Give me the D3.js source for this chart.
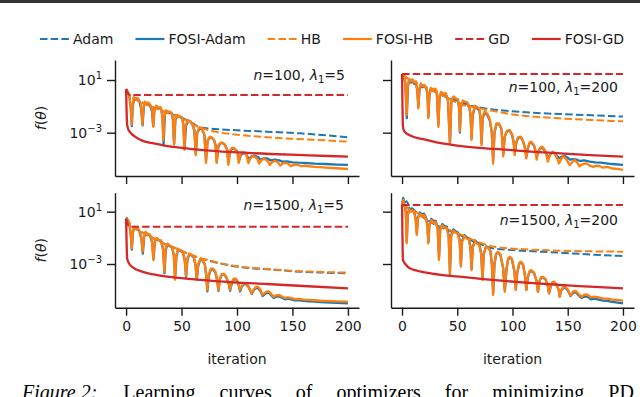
<!DOCTYPE html>
<html>
<head>
<meta charset="utf-8">
<script src="https://cdn.jsdelivr.net/npm/d3@7"></script>
<style>
  body { margin: 0; background: #fff; }
  svg { display: block; }
</style>
</head>
<body>
<div id="chart"></div>
<script>
// values are [iteration, log10 f(theta)]
const xTicks = [0, 50, 100, 150, 200];
const yTicks = [1e-3, 1e1];
const seriesNames = ["Adam", "FOSI-Adam", "HB", "FOSI-HB", "GD", "FOSI-GD"];

// n=100, lambda1=5
const tlAdam = [[0,0.3],[3,-0.1],[6,-0.37],[12,-0.6],[22,-1.0],[30,-1.25],[37,-1.5],[45,-1.7],[51,-1.9],[60,-2.3],[67,-2.6],[80,-2.72],[100,-2.82],[127,-2.92],[157,-3.05],[180,-3.2],[200,-3.35]];
const tlFosiAdam = [[0,0.3],[1.5,0.1],[3,-0.25],[4.3,-1.1],[5.2,-2.5],[6,-1.0],[7.5,-0.35],[9,-0.5],[10.5,-0.4],[12,-0.6],[13.6,-1.2],[14.9,-2.45],[16,-1.0],[17.5,-0.7],[19.5,-0.85],[21.5,-0.9],[23.4,-1.4],[24.4,-2.5],[25.5,-1.2],[27.5,-1.0],[29.5,-1.15],[31.5,-1.15],[32.8,-1.8],[33.8,-3.95],[35,-1.6],[37,-1.35],[39,-1.5],[41,-1.5],[42.3,-2.0],[43.3,-3.85],[44.5,-2.0],[46.5,-1.7],[48.5,-1.8],[50.5,-1.9],[51.7,-2.4],[52.7,-4.25],[54,-2.5],[56,-2.1],[58,-2.15],[60,-2.4],[61.7,-2.9],[62.9,-4.6],[64.2,-3.0],[66.5,-2.65],[68.5,-2.75],[70.7,-3.2],[72.1,-5.1],[73.5,-3.65],[75.5,-3.35],[77.5,-3.4],[79.5,-3.6],[80.8,-4.0],[81.8,-5.2],[83.2,-4.05],[85.2,-3.8],[87.2,-3.8],[89.2,-3.95],[91.2,-4.3],[92.3,-5.3],[93.7,-4.45],[95.7,-4.2],[97.5,-4.2],[99.5,-4.35],[101,-4.6],[102,-5.1],[103.5,-4.7],[106,-4.55],[108,-4.6],[110.5,-5.0],[113,-4.8],[116,-4.75],[119,-4.85],[121,-5.05],[124,-4.95],[127,-4.95],[130,-5.1],[134,-5.05],[138,-5.1],[141,-5.2],[145,-5.18],[150,-5.25],[155,-5.28],[160,-5.3],[170,-5.35],[180,-5.38],[190,-5.42],[200,-5.45]];
const tlHB = [[0,0.3],[3,-0.1],[6,-0.37],[12,-0.6],[22,-1.0],[30,-1.25],[37,-1.5],[45,-1.75],[51,-1.95],[60,-2.35],[67,-2.6],[82,-2.95],[100,-3.15],[127,-3.35],[160,-3.5],[200,-3.68]];
const tlFosiHB = [[0,0.3],[1.5,0.05],[3,-0.3],[4.2,-1.2],[5,-2.4],[5.8,-1.0],[7,-0.3],[8.5,-0.45],[10,-0.35],[11.5,-0.55],[13,-0.7],[14,-1.5],[14.7,-2.4],[15.5,-1.2],[17,-0.65],[18.5,-0.8],[20,-0.7],[22,-0.9],[23.5,-1.3],[24.6,-2.55],[25.5,-1.4],[27,-0.95],[29,-1.1],[31,-1.05],[32.6,-1.6],[33.6,-3.6],[34.6,-1.7],[36,-1.3],[38,-1.45],[40,-1.4],[42,-1.8],[43.2,-3.9],[44.3,-2.0],[46,-1.65],[48,-1.75],[50,-1.8],[51.5,-2.3],[52.5,-4.3],[53.6,-2.5],[55.5,-2.05],[57.5,-2.1],[59.5,-2.3],[61.5,-2.8],[62.8,-4.7],[64,-3.0],[66,-2.6],[68,-2.65],[70.5,-3.1],[72,-5.3],[73.4,-3.6],[75.5,-3.3],[77,-3.35],[79,-3.5],[80.5,-3.9],[81.7,-5.3],[83,-4.0],[85,-3.75],[87,-3.75],[89,-3.9],[91,-4.3],[92.2,-5.45],[93.5,-4.4],[95.5,-4.15],[97,-4.15],[99,-4.3],[100.5,-4.6],[101.5,-5.3],[102.8,-4.75],[104.5,-4.5],[106.5,-4.5],[108.5,-4.65],[110.3,-5.3],[112,-4.95],[114,-4.8],[116,-4.82],[118,-4.95],[120,-5.35],[122,-5.1],[124,-5.0],[126,-5.05],[128,-5.2],[129.6,-5.45],[131.5,-5.25],[134,-5.15],[136.5,-5.22],[139,-5.5],[141,-5.35],[144,-5.3],[146,-5.35],[148.5,-5.55],[151,-5.45],[154,-5.42],[158,-5.55],[161,-5.5],[165,-5.55],[170,-5.6],[175,-5.62],[180,-5.65],[190,-5.7],[200,-5.76]];
const tlGD = [[0,0.3],[3,-0.14],[200,-0.14]];
const tlFosiGD = [[0,0.3],[0.5,-1.5],[1,-2.4],[2,-2.75],[4,-3.0],[8,-3.3],[15,-3.62],[25,-3.82],[37,-4.02],[50,-4.15],[67,-4.3],[97,-4.48],[130,-4.62],[165,-4.72],[200,-4.82]];

// n=100, lambda1=200
const trAdam = [[0,1.46],[5,1.1],[10,0.9],[20,0.5],[30,0.1],[40,-0.3],[52,-0.77],[67,-1.03],[82,-1.23],[97,-1.35],[112,-1.45],[142,-1.58],[172,-1.68],[200,-1.78]];
const trFosiAdam = [[0,1.46],[1,1.3],[2,1.1],[3,0.7],[4.3,-1.9],[5.3,0.5],[6.5,1.0],[8,0.8],[9.5,0.95],[11,0.7],[12.5,0.8],[13.8,0.2],[14.8,-1.0],[15.8,0.2],[17,0.65],[18.5,0.45],[20,0.55],[22,0.35],[23,-0.1],[23.9,-1.8],[24.8,-0.2],[26,0.3],[28,0.2],[30,0.25],[31.5,0.0],[32.9,-2.4],[34,-0.3],[35.5,0.0],[37.5,-0.15],[39.5,-0.1],[41.5,-0.5],[43.4,-3.8],[44.6,-0.7],[46.5,-0.35],[48.5,-0.5],[50.5,-0.55],[51.6,-1.1],[52.4,-3.0],[53.3,-1.1],[55,-0.65],[57,-0.75],[59,-0.8],[61,-1.1],[62,-1.7],[63,-3.4],[64,-1.7],[66,-1.05],[68,-1.15],[70,-1.3],[71,-1.9],[72,-3.8],[73,-1.9],[75,-1.45],[77.5,-1.7],[79.5,-2.1],[81.3,-3.0],[82.5,-5.1],[83.7,-3.0],[85.5,-2.35],[87.8,-2.35],[90,-2.75],[91.7,-4.6],[93,-3.3],[95,-2.9],[97.5,-2.85],[99.5,-3.15],[101,-3.7],[102.1,-4.5],[103.4,-3.8],[105,-3.4],[107.4,-3.35],[109.5,-3.65],[111.3,-4.15],[112.6,-4.8],[113.9,-4.2],[115.5,-3.8],[117,-3.75],[119.5,-4.0],[121,-4.4],[122,-4.8],[123.3,-4.45],[125,-4.2],[127,-4.15],[129.5,-4.4],[131,-4.7],[132.2,-4.95],[133.5,-4.75],[135,-4.55],[137,-4.5],[139.5,-4.7],[142,-4.95],[144,-4.85],[147,-4.75],[150,-4.9],[152,-5.05],[155,-5.0],[158,-5.05],[161,-5.15],[165,-5.1],[170,-5.2],[175,-5.25],[180,-5.28],[190,-5.38],[200,-5.45]];
const trHB = [[0,1.46],[5,1.1],[10,0.9],[20,0.5],[30,0.1],[40,-0.3],[52,-0.8],[67,-1.1],[82,-1.33],[97,-1.58],[112,-1.73],[142,-1.91],[172,-2.04],[200,-2.14]];
const trFosiHB = [[0,1.46],[1,1.2],[2,1.35],[3,0.8],[4.2,-1.66],[5.2,0.6],[6.5,1.1],[8,0.9],[9.5,1.05],[11,0.8],[12.5,0.9],[13.8,0.3],[14.7,-1.15],[15.6,0.3],[17,0.75],[18.5,0.55],[20,0.65],[22,0.45],[23,0.0],[23.8,-1.9],[24.7,-0.1],[26,0.4],[28,0.3],[30,0.35],[31.5,0.1],[32.8,-2.55],[34,-0.2],[35.5,0.1],[37.5,-0.05],[39.5,0.0],[41.5,-0.4],[43.3,-3.8],[44.6,-0.6],[46.5,-0.25],[48.5,-0.4],[50.5,-0.45],[51.6,-1.0],[52.3,-2.9],[53.2,-1.0],[55,-0.55],[57,-0.65],[59,-0.7],[61,-1.0],[62,-1.6],[62.9,-3.55],[63.9,-1.6],[66,-0.95],[68,-1.05],[70,-1.2],[71,-1.8],[71.9,-3.95],[72.9,-1.8],[75,-1.35],[77.5,-1.6],[79.5,-2.0],[81.3,-3.0],[82.4,-5.35],[83.6,-3.0],[85.5,-2.3],[87.8,-2.3],[90,-2.7],[91.6,-4.8],[93,-3.3],[95,-2.85],[97.5,-2.8],[99.5,-3.1],[101,-3.7],[102,-4.7],[103.3,-3.75],[105,-3.35],[107.4,-3.3],[109.5,-3.6],[111.3,-4.2],[112.5,-4.95],[113.8,-4.2],[115.5,-3.75],[117,-3.68],[119.5,-3.95],[121,-4.5],[121.8,-5.05],[123.2,-4.5],[125,-4.15],[127,-4.06],[129.5,-4.35],[131,-4.8],[132,-5.2],[133.3,-4.85],[135,-4.55],[136.6,-4.45],[139,-4.7],[141,-5.05],[142,-5.33],[143.5,-5.1],[145,-4.88],[146.5,-4.82],[149,-5.05],[151,-5.35],[152,-5.45],[153.5,-5.3],[156,-5.07],[158.5,-5.25],[160.6,-5.55],[163,-5.4],[166.7,-5.33],[170,-5.5],[173,-5.6],[176,-5.5],[178.7,-5.53],[182,-5.65],[186,-5.6],[190,-5.72],[195,-5.75],[200,-5.83]];
const trGD = [[0,1.46],[200,1.46]];
const trFosiGD = [[0,1.46],[0.4,-1.0],[0.8,-2.5],[2,-2.9],[7,-3.2],[22,-3.55],[35,-3.8],[52,-4.0],[70,-4.15],[97,-4.31],[120,-4.45],[143,-4.57],[170,-4.7],[200,-4.82]];

// n=1500, lambda1=5
const blAdam = [[0,0.55],[2,0.3],[4,0.0],[6,-0.15],[10,-0.35],[15,-0.6],[21.6,-0.91],[30,-1.25],[37,-1.55],[45,-1.8],[51.5,-2.06],[60,-2.35],[67,-2.57],[75,-2.75],[82,-2.9],[96,-3.15],[110,-3.3],[127,-3.41],[142,-3.5],[157,-3.59],[180,-3.66],[200,-3.71]];
const blFosiAdam = [[0,0.55],[1.5,0.35],[3,0.05],[4.2,-0.7],[5.2,-1.9],[6.2,-0.55],[7.5,-0.2],[9,-0.35],[10.5,-0.3],[12,-0.5],[13.9,-1.1],[15.1,-2.2],[16.3,-0.95],[17.5,-0.6],[19.5,-0.75],[21.5,-0.8],[23.5,-1.35],[24.7,-2.6],[25.9,-1.35],[27.5,-1.05],[29.5,-1.2],[31.5,-1.25],[33.4,-1.9],[34.6,-3.7],[35.8,-1.9],[37.5,-1.5],[39.5,-1.65],[41.5,-1.75],[43.1,-2.4],[44.2,-4.1],[45.4,-2.4],[47,-1.9],[49,-2.0],[51,-2.1],[52.9,-2.7],[54.1,-4.0],[55.3,-2.7],[57,-2.25],[59,-2.35],[61,-2.5],[62.6,-3.1],[63.8,-4.2],[65.1,-3.1],[67,-2.65],[69,-2.75],[71,-3.05],[72.3,-3.9],[73.3,-5.1],[74.6,-3.9],[76.5,-3.4],[78.5,-3.4],[80.5,-3.65],[82.1,-4.25],[83.3,-5.05],[84.6,-4.15],[86.5,-3.8],[88.5,-3.8],[90.5,-4.05],[92.6,-4.55],[93.8,-5.05],[95.1,-4.55],[97,-4.17],[99,-4.17],[101,-4.45],[102.8,-5.1],[104.3,-4.75],[106,-4.55],[108,-4.52],[110.5,-4.75],[113.3,-5.3],[115,-5.0],[117,-4.85],[119,-4.85],[121,-5.05],[123.1,-5.45],[125,-5.3],[127,-5.2],[129,-5.22],[131,-5.4],[133.1,-5.6],[135,-5.5],[138,-5.48],[141,-5.6],[143.2,-5.7],[146,-5.65],[149,-5.7],[152,-5.78],[156,-5.77],[160,-5.82],[165,-5.85],[170,-5.88],[175,-5.91],[180,-5.93],[190,-5.97],[200,-6.0]];
const blHB = [[0,0.5],[2,0.3],[4,0.0],[6,-0.15],[10,-0.35],[15,-0.6],[21.6,-0.9],[30,-1.25],[37,-1.55],[45,-1.8],[51.5,-2.05],[60,-2.35],[67,-2.55],[75,-2.72],[82,-2.88],[96,-3.12],[110,-3.27],[127,-3.38],[142,-3.47],[157,-3.55],[180,-3.62],[200,-3.66]];
const blFosiHB = [[0,0.5],[1.5,0.3],[3,0.0],[4.2,-0.8],[5.1,-1.8],[6,-0.6],[7.5,-0.15],[9,-0.3],[10.5,-0.25],[12,-0.45],[13.8,-1.0],[15,-2.06],[16.2,-0.9],[17.5,-0.55],[19.5,-0.7],[21.5,-0.75],[23.4,-1.3],[24.6,-2.7],[25.8,-1.3],[27.5,-1.0],[29.5,-1.15],[31.5,-1.2],[33.3,-1.8],[34.5,-3.6],[35.7,-1.8],[37.5,-1.45],[39.5,-1.6],[41.5,-1.7],[43,-2.3],[44.1,-4.2],[45.3,-2.3],[47,-1.85],[49,-1.95],[51,-2.05],[52.8,-2.6],[54,-3.9],[55.2,-2.6],[57,-2.2],[59,-2.3],[61,-2.45],[62.5,-3.0],[63.7,-4.1],[65,-3.0],[67,-2.6],[69,-2.7],[71,-3.0],[72.2,-3.8],[73.2,-5.0],[74.5,-3.8],[76.5,-3.35],[78.5,-3.35],[80.5,-3.6],[82,-4.2],[83.2,-5.0],[84.5,-4.1],[86.5,-3.75],[88.5,-3.75],[90.5,-4.0],[92.5,-4.5],[93.7,-4.95],[95,-4.5],[97,-4.12],[99,-4.12],[101,-4.4],[102.7,-5.0],[104.2,-4.7],[106,-4.5],[108,-4.47],[110.5,-4.7],[113.2,-5.25],[115,-4.95],[117,-4.75],[119,-4.75],[121,-4.95],[123,-5.35],[125,-5.2],[127,-5.1],[129,-5.12],[131,-5.3],[133,-5.5],[135,-5.4],[138,-5.37],[141,-5.5],[143,-5.6],[146,-5.55],[149,-5.6],[152,-5.68],[156,-5.66],[160,-5.72],[165,-5.74],[170,-5.77],[175,-5.8],[180,-5.82],[190,-5.85],[200,-5.88]];
const blGD = [[0,0.45],[3,-0.15],[200,-0.15]];
const blFosiGD = [[0,0.45],[0.5,-1.5],[1,-2.6],[3,-3.0],[6,-3.25],[15,-3.6],[25,-3.8],[37,-3.97],[52,-4.1],[67,-4.22],[97,-4.4],[127,-4.53],[160,-4.68],[200,-4.86]];

// n=1500, lambda1=200
const brAdam = [[0,1.51],[1,2.0],[2,1.7],[4,1.8],[6,1.5],[10,1.2],[15,0.8],[22.5,0.37],[30,0.0],[40,-0.35],[52,-0.78],[60,-1.1],[70,-1.45],[82,-1.8],[97,-1.92],[112,-2.0],[142,-2.13],[170,-2.27],[200,-2.39]];
const brFosiAdam = [[0,1.51],[1,2.05],[2,1.6],[3,1.3],[3.6,0.6],[4.3,-1.3],[5.1,0.7],[6.5,1.3],[8,1.1],[9.5,1.2],[11,1.0],[12.3,0.5],[13.4,-0.6],[14.4,0.5],[16,0.95],[18,0.8],[20,0.85],[22,0.5],[23,-0.1],[23.9,-1.3],[24.8,0.0],[26.5,0.45],[28.5,0.3],[30.5,0.3],[32.3,-0.3],[33.5,-2.5],[34.6,-0.3],[36.5,0.05],[38.5,-0.1],[40.5,-0.15],[42.2,-0.8],[43.4,-3.6],[44.5,-0.8],[46.5,-0.35],[48.5,-0.5],[50.5,-0.6],[52.2,-1.2],[53.3,-3.1],[54.4,-1.2],[56.5,-0.8],[58.5,-0.95],[60.5,-1.05],[61.9,-1.7],[63,-3.4],[64,-1.7],[66,-1.2],[68,-1.35],[70,-1.5],[71.7,-2.2],[72.9,-4.1],[74,-2.2],[76,-1.65],[78,-1.75],[80,-2.0],[81.3,-3.0],[82.5,-5.2],[83.7,-3.0],[85.2,-2.25],[86.9,-2.1],[89,-2.3],[91.5,-3.3],[93.1,-5.0],[94.6,-3.4],[96,-2.65],[97.5,-2.5],[99.5,-2.65],[101.8,-3.6],[103,-4.9],[104.3,-3.7],[106,-3.0],[107.4,-2.88],[109.5,-3.05],[111.3,-3.9],[112.6,-4.95],[113.9,-4.0],[115.5,-3.6],[117,-3.52],[119.5,-3.7],[121.8,-4.3],[123.1,-5.1],[124.5,-4.3],[126,-4.05],[127.5,-4.03],[130,-4.2],[132,-4.7],[133.1,-5.25],[134.5,-4.75],[136,-4.45],[137.5,-4.4],[140,-4.6],[141.9,-5.0],[142.7,-5.5],[144,-5.05],[146,-4.8],[147.5,-4.8],[150,-5.0],[152.5,-5.45],[155,-5.2],[157,-5.15],[160,-5.4],[162.5,-5.6],[165,-5.5],[168,-5.5],[171,-5.7],[174,-5.65],[178,-5.72],[182,-5.8],[186,-5.82],[190,-5.9],[195,-5.95],[200,-6.0]];
const brHB = [[0,1.51],[5,1.3],[10,1.1],[22.5,0.4],[40,-0.3],[52,-0.7],[70,-1.35],[82,-1.67],[97,-1.8],[112,-1.88],[142,-1.98],[170,-2.03],[200,-2.06]];
const brFosiHB = [[0,1.51],[1,1.9],[2,1.5],[3,1.2],[3.6,0.5],[4.2,-1.42],[5,0.6],[6.5,1.2],[8,1.0],[9.5,1.1],[11,0.9],[12.3,0.4],[13.3,-0.78],[14.3,0.4],[16,0.85],[18,0.7],[20,0.75],[22,0.4],[23,-0.2],[23.8,-1.42],[24.7,-0.1],[26.5,0.35],[28.5,0.2],[30.5,0.2],[32.3,-0.4],[33.4,-2.69],[34.5,-0.4],[36.5,-0.05],[38.5,-0.2],[40.5,-0.25],[42.2,-0.9],[43.3,-3.84],[44.4,-0.9],[46.5,-0.45],[48.5,-0.6],[50.5,-0.7],[52.2,-1.3],[53.2,-3.2],[54.3,-1.3],[56.5,-0.9],[58.5,-1.05],[60.5,-1.15],[61.9,-1.8],[62.9,-3.46],[63.9,-1.8],[66,-1.3],[68,-1.45],[70,-1.55],[71.7,-2.3],[72.8,-4.22],[73.9,-2.3],[76,-1.7],[78,-1.75],[80,-2.0],[81.3,-3.0],[82.4,-5.37],[83.6,-3.0],[85.2,-2.2],[86.9,-2.06],[89,-2.25],[91.5,-3.3],[93,-5.12],[94.5,-3.4],[96,-2.6],[97.5,-2.44],[99.5,-2.6],[101.8,-3.6],[102.9,-5.0],[104.2,-3.7],[106,-2.95],[107.4,-2.82],[109.5,-3.0],[111.3,-3.9],[112.5,-5.0],[113.8,-4.0],[115.5,-3.55],[117,-3.46],[119.5,-3.65],[121.8,-4.3],[123,-5.12],[124.4,-4.3],[126,-4.0],[127.5,-3.97],[130,-4.15],[132,-4.7],[133,-5.24],[134.4,-4.7],[136,-4.4],[137.5,-4.35],[140,-4.55],[141.8,-5.0],[142.6,-5.5],[144,-5.0],[146,-4.75],[147.5,-4.73],[150,-4.95],[152.5,-5.4],[155,-5.1],[157,-5.05],[160,-5.3],[162.5,-5.5],[165,-5.35],[168,-5.35],[171,-5.55],[174,-5.5],[178,-5.55],[182,-5.65],[186,-5.65],[190,-5.72],[195,-5.75],[200,-5.8]];
const brGD = [[0,1.51],[200,1.51]];
const brFosiGD = [[0,1.51],[0.4,-1.0],[0.8,-2.69],[3,-3.0],[7,-3.33],[22,-3.66],[52,-3.97],[82,-4.22],[112,-4.43],[142,-4.6],[170,-4.73],[200,-4.86]];

const panelLabels = [["100", "5"], ["100", "200"], ["1500", "5"], ["1500", "200"]];
const captionLead = "Figure 2:";
const captionText = "Learning curves of optimizers for minimizing PD";

const width = 640, height = 397;
const font = "DejaVu Sans";
const ink = "#1a1a1a";
const colors = { blue: "#1f77b4", orange: "#ff7f0e", red: "#d62728" };
const styles = [
  { color: colors.blue, dash: "7.5,3.2" },
  { color: colors.blue, dash: null },
  { color: colors.orange, dash: "7.5,3.2" },
  { color: colors.orange, dash: null },
  { color: colors.red, dash: "7.5,3.2" },
  { color: colors.red, dash: null }
];

const svg = d3.select("#chart").append("svg")
  .attr("width", width).attr("height", height)
  .attr("font-family", font);

svg.append("rect").attr("x", 0).attr("y", 0).attr("width", width).attr("height", 3).attr("fill", "#333");

const panels = [
  { xr: [115, 359], yr: [176, 60], yd: [-6.29, 2.52], series: [tlAdam, tlFosiAdam, tlHB, tlFosiHB, tlGD, tlFosiGD], label: panelLabels[0], lx: 345, ly: 80, left: true, bottom: false },
  { xr: [391, 634], yr: [176, 60], yd: [-6.29, 2.52], series: [trAdam, trFosiAdam, trHB, trFosiHB, trGD, trFosiGD], label: panelLabels[1], lx: 618, ly: 92, left: false, bottom: false },
  { xr: [115, 359], yr: [307.7, 192.7], yd: [-6.34, 2.45], series: [blAdam, blFosiAdam, blHB, blFosiHB, blGD, blFosiGD], label: panelLabels[2], lx: 344, ly: 210, left: true, bottom: true },
  { xr: [391, 634], yr: [307.7, 192.7], yd: [-6.34, 2.45], series: [brAdam, brFosiAdam, brHB, brFosiHB, brGD, brFosiGD], label: panelLabels[3], lx: 618, ly: 225, left: false, bottom: true }
];

panels.forEach(p => {
  const x = d3.scaleLinear().domain([-10, 210]).range(p.xr);
  const y = d3.scaleLog().domain([Math.pow(10, p.yd[0]), Math.pow(10, p.yd[1])]).range(p.yr);
  const g = svg.append("g");

  // series, drawn in legend order
  p.series.forEach((data, i) => {
    const st = styles[i];
    const smooth = (i % 2 === 0) || i === 5;
    const line = d3.line()
      .x(d => x(d[0]))
      .y(d => y(Math.pow(10, d[1])))
      .curve(smooth ? d3.curveMonotoneX : d3.curveLinear);
    g.append("path")
      .datum(data)
      .attr("fill", "none")
      .attr("stroke", st.color)
      .attr("stroke-width", st.dash ? 2 : 2.3)
      .attr("stroke-linejoin", "round")
      .attr("stroke-dasharray", st.dash)
      .attr("d", line);
  });

  // axes
  const xAxis = g.append("g")
    .attr("transform", `translate(0,${p.yr[0]})`)
    .call(d3.axisBottom(x).tickValues(xTicks).tickSize(8).tickSizeOuter(0).tickPadding(5)
      .tickFormat(d => p.bottom ? d : ""));
  const yAxis = g.append("g")
    .attr("transform", `translate(${p.xr[0]},0)`)
    .call(d3.axisLeft(y).tickValues(yTicks).tickSize(8).tickSizeOuter(0).tickPadding(5)
      .tickFormat(d => ""));
  [xAxis, yAxis].forEach(a => {
    a.attr("font-family", font).attr("font-size", 14);
    a.select(".domain").attr("stroke", ink).attr("stroke-width", 1.4);
    a.selectAll(".tick line").attr("stroke", ink).attr("stroke-width", 1.4);
    a.selectAll(".tick text").attr("fill", ink);
  });
  if (p.left) {
    yAxis.selectAll(".tick text").each(function(d) {
      const t = d3.select(this);
      const e = Math.round(Math.log10(d));
      t.append("tspan").text("10");
      t.append("tspan").attr("dy", "-6").attr("font-size", 10)
        .text(e < 0 ? "\u2212" + Math.abs(e) : String(e));
    });
    const yc = (p.yr[0] + p.yr[1]) / 2;
    const yl = g.append("text")
      .attr("transform", `translate(46,${yc}) rotate(-90)`)
      .attr("text-anchor", "middle")
      .attr("font-size", 14).attr("fill", ink);
    yl.append("tspan").attr("font-style", "italic").text("f");
    yl.append("tspan").text("(");
    yl.append("tspan").attr("font-style", "italic").text("\u03b8");
    yl.append("tspan").text(")");
  }
  if (p.bottom) {
    g.append("text")
      .attr("x", (p.xr[0] + p.xr[1]) / 2).attr("y", 364)
      .attr("text-anchor", "middle")
      .attr("font-size", 14).attr("fill", ink)
      .text("iteration");
  }

  // panel annotation n=..., lambda_1=...
  const lab = g.append("text")
    .attr("x", p.lx).attr("y", p.ly)
    .attr("text-anchor", "end")
    .attr("font-size", 14).attr("fill", ink);
  lab.append("tspan").attr("font-style", "italic").text("n");
  lab.append("tspan").text("=" + p.label[0] + ", ");
  lab.append("tspan").attr("font-style", "italic").text("\u03bb");
  lab.append("tspan").attr("font-size", 10).attr("dy", 3).text("1");
  lab.append("tspan").attr("dy", -3).text("=" + p.label[1]);
});

// legend
const legend = svg.append("g").attr("font-size", 14);
let lx = 40;
seriesNames.forEach((name, i) => {
  const st = styles[i];
  legend.append("line")
    .attr("x1", lx).attr("x2", lx + 29)
    .attr("y1", 39).attr("y2", 39)
    .attr("stroke", st.color).attr("stroke-width", 2.2)
    .attr("stroke-dasharray", st.dash);
  const t = legend.append("text")
    .attr("x", lx + 33).attr("y", 44)
    .attr("fill", ink).text(name);
  lx += 33 + t.node().getComputedTextLength() + 22;
});

// caption, partly below the bottom edge as in the figure
const cap = svg.append("text")
  .attr("x", 22).attr("y", 399)
  .attr("font-family", "Liberation Serif")
  .attr("font-size", 20).attr("fill", "#000");
cap.append("tspan").attr("font-style", "italic").text(captionLead);
cap.append("tspan").attr("dx", 26).attr("word-spacing", 19).text(captionText);
</script>
</body>
</html>
